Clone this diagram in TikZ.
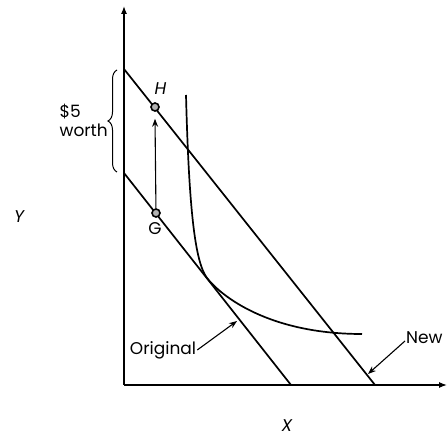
\documentclass[tikz,border=0pt]{standalone}
\usepackage{fontspec}
\setmainfont{Poppins}
\usepackage{tikz}
\usetikzlibrary{arrows.meta, positioning, decorations.pathreplacing}

\begin{document}
\begin{tikzpicture}[
  x=1pt, y=-1pt,
  axis/.style={line width=1.2pt, -{Latex[length=8pt,width=6pt]}},
  budget/.style={line width=1.7pt},
  dot/.style={circle, draw, line width=1.6pt, fill=gray!60,
              inner sep=0pt, minimum size=8pt},
  lbl/.style={font=\fontsize{17}{19}\selectfont, inner sep=1pt},
  itlbl/.style={lbl, font=\fontsize{17}{19}\selectfont\itshape},
  pointer/.style={line width=1.1pt, -{Stealth[length=8pt,width=6pt]}}
]
\useasboundingbox (0,0) rectangle (448,438);

% axes
\coordinate (O) at (124,385);
\coordinate (ytop) at (124,6);
\coordinate (xend) at (447,385);
\draw[axis] (O) -- (ytop);
\draw[axis] (O) -- (xend);

% budget lines
\coordinate (newtop) at (124,69);
\coordinate (newend) at (375,385);
\coordinate (origtop) at (124,173);
\coordinate (origend) at (291,385);
\draw[budget] (newtop) -- (newend);
\draw[budget] (origtop) -- (origend);

% indifference curve
\coordinate (tang) at (207,278);
\draw[budget] (186,95) .. controls (189,210) and (195,262) .. (tang)
  .. controls (222,297) and (270,334) .. (362,334);

% points H and G
\node[dot] (H) at (155,107) {};
\node[dot] (G) at (156,213) {};
\draw[pointer] (G) -- ([yshift=-7pt]H.south);
\node[itlbl, above right=8pt and -5pt of H] (Hlbl) {H};
\node[lbl, below=4pt of G, xshift=-1pt] (Glbl) {G};

% brace
\draw[line width=1pt, decorate, decoration={brace, amplitude=9pt}]
  (117,172) -- (117,70);
\node[lbl, align=left, anchor=east] (worth) at (109,120) {\$5\\worth};

% axis labels
\node[itlbl] (Ylbl) at (19,217) {Y};
\node[itlbl] (Xlbl) at (287,426) {X};

% line labels
\node[lbl] (orig) at (163,350) {Original};
\coordinate (origtip) at (237,321);
\draw[pointer] (orig.east) -- (origtip);
\node[lbl, anchor=west] (new) at (405,338) {New};
\coordinate (newtip) at (368,374);
\draw[pointer] ([yshift=-3pt]new.west) -- (newtip);
\end{tikzpicture}
\end{document}
